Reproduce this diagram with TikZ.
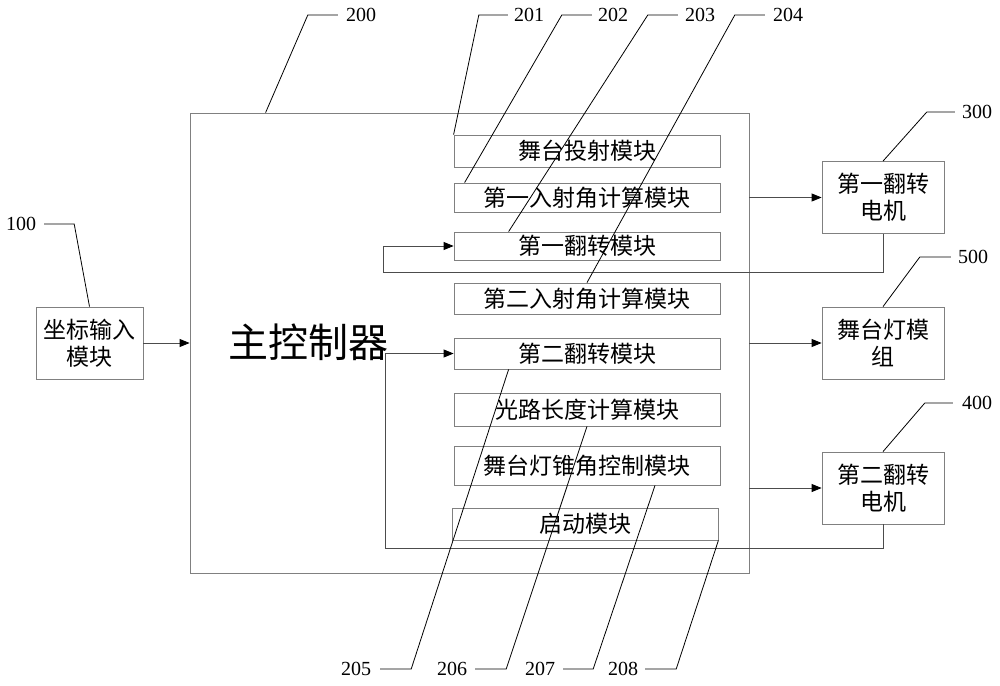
\documentclass[tikz,border=0pt]{standalone}
\usepackage{fontspec}
\setmainfont{Liberation Serif}
\newfontfamily\cjk{Noto Sans CJK SC}
\usetikzlibrary{arrows.meta}

\begin{document}
\begin{tikzpicture}
  [x=1pt, y=-1pt,
   box/.style={draw=gray, line width=0.8pt, inner sep=0pt, align=center,
               font=\cjk\fontsize{23}{27}\selectfont},
   module/.style={box, minimum width=266pt},
   motor/.style={box, minimum width=122pt, minimum height=72pt},
   num/.style={inner sep=1pt, font=\fontsize{20}{20}\selectfont},
   leader/.style={draw=black, line width=0.8pt},
   link/.style={draw=gray!60!black, line width=0.8pt},
   >={Triangle[length=10pt, width=8pt, color=black]}]
  \useasboundingbox (0,0) rectangle (1000,685);

  % main controller and its modules
  \node[box, minimum width=559pt, minimum height=460pt] (m200) at (469.5,343) {};
  \node[inner sep=0pt, font=\cjk\fontsize{40}{40}\selectfont] (title) at (308,342) {主控制器};
  \node[module, minimum height=32pt] (m201) at (587,151) {舞台投射模块};
  \node[module, minimum height=29pt] (m202) at (587,197.5) {第一入射角计算模块};
  \node[module, minimum height=28pt] (m203) at (587,246) {第一翻转模块};
  \node[module, minimum height=31pt] (m204) at (587,298.5) {第二入射角计算模块};
  \node[module, minimum height=31pt] (m205) at (587,353.5) {第二翻转模块};
  \node[module, minimum height=33pt] (m206) at (587,409.5) {光路长度计算模块};
  \node[module, minimum height=39pt] (m207) at (587,465.5) {舞台灯锥角控制模块};
  \node[module, minimum height=32pt] (m208) at (585,524) {启动模块};

  % outer modules
  \node[box, minimum width=107pt, minimum height=72pt] (m100) at (89.5,343) {坐标输入\\模块};
  \node[motor] (m300) at (883,197.5) {第一翻转\\电机};
  \node[motor] (m500) at (883,343) {舞台灯模\\组};
  \node[motor] (m400) at (883,488) {第二翻转\\电机};

  % signal lines
  \draw[link, ->] (m100.east) -- (m200.west);
  \draw[link, ->] (m200.east |- m300.west) -- (m300.west);
  \draw[link, ->] (m200.east |- m500.west) -- (m500.west);
  \draw[link, ->] (m200.east |- m400.west) -- (m400.west);
  \coordinate (k1) at (383,272);
  \coordinate (k2) at (385,548);
  \draw[link, ->] (m300.south) |- (k1) |- (m203.west);
  \draw[link, ->] (m400.south) |- (k2) |- (m205.west);

  % reference numbers
  \node[num] (l100) at (21,224) {100};
  \node[num] (l200) at (361,15) {200};
  \node[num] (l201) at (529,15) {201};
  \node[num] (l202) at (613,15) {202};
  \node[num] (l203) at (700,15) {203};
  \node[num] (l204) at (788,15) {204};
  \node[num] (l205) at (356,669) {205};
  \node[num] (l206) at (452,669) {206};
  \node[num] (l207) at (540,669) {207};
  \node[num] (l208) at (623,669) {208};
  \node[num] (l300) at (977,112) {300};
  \node[num] (l500) at (973,257) {500};
  \node[num] (l400) at (977,403) {400};

  \draw[leader] ([xshift=7pt]l100.east) -- ++(30,0) -- (m100.north);
  \draw[leader] ([xshift=-7pt]l200.west) -- ++(-30,0) -- ([xshift=76pt]m200.north west);
  \draw[leader] ([xshift=-5pt]l201.west) -- ++(-29,0) -- (m201.north west);
  \draw[leader] ([xshift=-5pt]l202.west) -- ++(-30,0) -- ([xshift=11pt]m202.north west);
  \draw[leader] ([xshift=-6pt]l203.west) -- ++(-30,0) -- ([xshift=55pt]m203.north west);
  \draw[leader] ([xshift=-7pt]l204.west) -- ++(-30,0) -- (m204.north);
  \draw[leader] ([xshift=8pt]l205.east) -- ++(31,0) -- ([xshift=55pt]m205.south west);
  \draw[leader] ([xshift=7pt]l206.east) -- ++(31,0) -- (m206.south);
  \draw[leader] ([xshift=7pt]l207.east) -- ++(30,0) -- ([xshift=68pt]m207.south);
  \draw[leader] ([xshift=6pt]l208.east) -- ++(31,0) -- (m208.south east);
  \draw[leader] ([xshift=-6pt]l300.west) -- ++(-28,0) -- (m300.north);
  \draw[leader] ([xshift=-6pt]l500.west) -- ++(-31,0) -- (m500.north);
  \draw[leader] ([xshift=-8pt]l400.west) -- ++(-28,0) -- (m400.north);
\end{tikzpicture}
\end{document}
